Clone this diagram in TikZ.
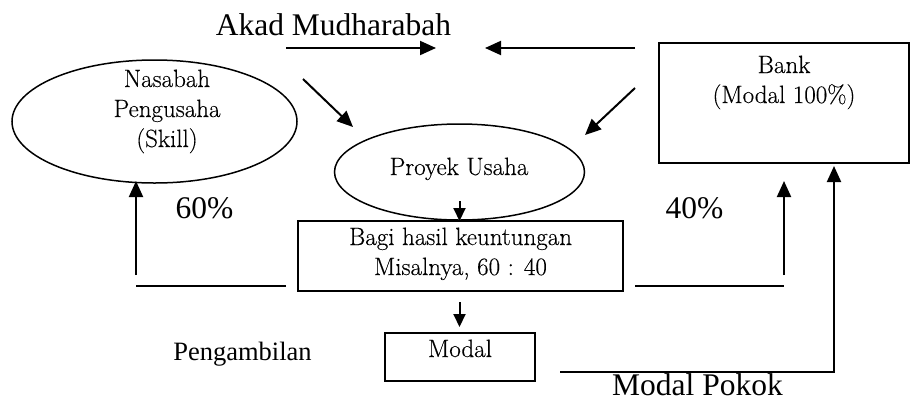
\documentclass[tikz,border=0pt]{standalone}
\usepackage{fontspec}
\setmainfont{Liberation Serif}
\newfontfamily\lmf{Latin Modern Roman}[FakeBold=0.3]
\usetikzlibrary{arrows.meta,shapes.geometric}
\begin{document}
\begin{tikzpicture}[x=1pt,y=-1pt,
  big/.style={font=\rmfamily\fontsize{31.5}{36}\selectfont, inner sep=0pt, anchor=base},
  mid/.style={font=\rmfamily\fontsize{26.5}{30}\selectfont, inner sep=0pt, anchor=base},
  small/.style={font=\lmf\fontsize{25}{28}\selectfont, inner sep=0pt, anchor=base},
  arr/.style={line width=2pt, -{Triangle[length=16pt,width=14pt]}},
  sarr/.style={line width=2pt, -{Triangle[length=13pt,width=12pt]}},
  ln/.style={line width=2pt},
  ell/.style={draw, ellipse, line width=1.5pt, inner sep=0pt},
  boxx/.style={draw, line width=1.6pt}]
\useasboundingbox (0,0) rectangle (915,400);
% shapes
\node[ell, minimum width=285pt, minimum height=123pt] (nas) at (154.5,121.5) {};
\node[ell, minimum width=250pt, minimum height=96pt] (proy) at (459.5,172) {};
\draw[boxx] (659,43) rectangle (909,163);
\coordinate (bankb) at (834,163);
\draw[boxx] (298,221) rectangle (623,291);
\draw[boxx] (385,333) rectangle (535,381);
% texts
\node[big] (akad) at (333.5,35) {Akad Mudharabah};
\node[small] (n1) at (167,87) {Nasabah};
\node[small] (n2) at (167,117) {Pengusaha};
\node[small] (n3) at (167,147) {(Skill)};
\node[small] (p1) at (459,175) {Proyek Usaha};
\node[small] (b1) at (784,73) {Bank};
\node[small] (b2) at (784,103) {(Modal 100\%)};
\node[small] (g1) at (460.5,245) {Bagi hasil keuntungan};
\node[small] (g2) at (460.5,275) {Misalnya, 60 : 40};
\node[small] (m1) at (460,357) {Modal};
\node[big] (p60) at (204.5,218) {60\%};
\node[big] (p40) at (694.5,218) {40\%};
\node[mid] (peng) at (242.5,360) {Pengambilan};
\node[big] (mp) at (697.5,395) {Modal Pokok};
% connectors
\coordinate (a1s) at (286,48); \coordinate (a1e) at (436,48);
\coordinate (a2s) at (635,48); \coordinate (a2e) at (485,48);
\coordinate (d1s) at (303,79); \coordinate (d1e) at (353,127);
\coordinate (d2s) at (635,88); \coordinate (d2e) at (585,135);
\draw[arr] (a1s) -- (a1e);
\draw[arr] (a2s) -- (a2e);
\draw[arr] (d1s) -- (d1e);
\draw[arr] (d2s) -- (d2e);
\coordinate (v1s) at (459.5,201); \coordinate (v1e) at (459.5,221);
\coordinate (v2s) at (459.5,302); \coordinate (v2e) at (459.5,327);
\draw[sarr] (v1s) -- (v1e);
\draw[sarr] (v2s) -- (v2e);
\coordinate (l1a) at (286,286); \coordinate (l1b) at (136,286);
\coordinate (l1c) at (136,275); \coordinate (l1d) at (136,181);
\draw[ln] (l1a) -- (l1b);
\draw[arr] (l1c) -- (l1d);
\coordinate (r1a) at (635,286); \coordinate (r1b) at (784,286);
\coordinate (r1c) at (784,275); \coordinate (r1d) at (784,181);
\draw[ln] (r1a) -- (r1b);
\draw[arr] (r1c) -- (r1d);
\coordinate (mpa) at (560,372); \coordinate (mpb) at (834,372);
\draw[arr] (mpa) -- (mpb) -- ([yshift=-3pt]bankb);
\end{tikzpicture}
\end{document}
